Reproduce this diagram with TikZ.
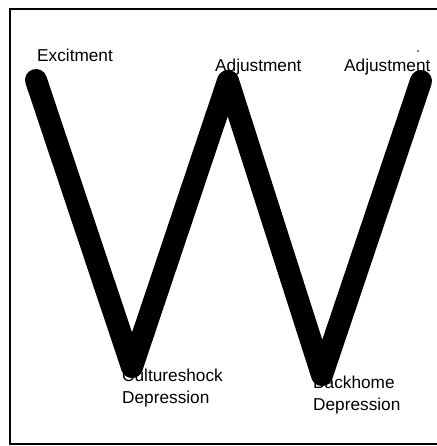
\documentclass[tikz,border=0pt]{standalone}
\usepackage{fontspec}
\setmainfont{Liberation Sans}
\usetikzlibrary{positioning}

\begin{document}
\begin{tikzpicture}[
    x=1bp, y=-1bp,
    lbl/.style={font=\fontsize{17.3}{21.5}\selectfont, anchor=base west,
                inner sep=0pt, align=left},
    wline/.style={line width=22bp, line cap=round, line join=round},
    frame/.style={line width=2bp}
  ]
  \useasboundingbox (0,0) rectangle (437,446);
  \draw[frame] (437,9) -- (10,9) -- (10,444) -- (437,444);

  % labels sit under the W line
  \node[lbl] (excite)  at (37,62)   {Excitment};
  \node[lbl] (adjmid)  at (215,72)  {Adjustment};
  \node[lbl] (adjend)  at (344,72)  {Adjustment};
  \node[lbl] (culture) at (122,403) {Cultureshock\\Depression};
  \node[lbl] (home)    at (313,410) {Backhome\\Depression};

  \coordinate (start) at (36,80);
  \coordinate (low1)  at (132,367);
  \coordinate (peak)  at (228,81);
  \coordinate (low2)  at (322,375);
  \coordinate (stop)  at (421,81);
  \draw[wline] (start) -- (low1) -- (peak) -- (low2) -- (stop);

  \fill (418,51) circle (0.8bp);
\end{tikzpicture}
\end{document}
